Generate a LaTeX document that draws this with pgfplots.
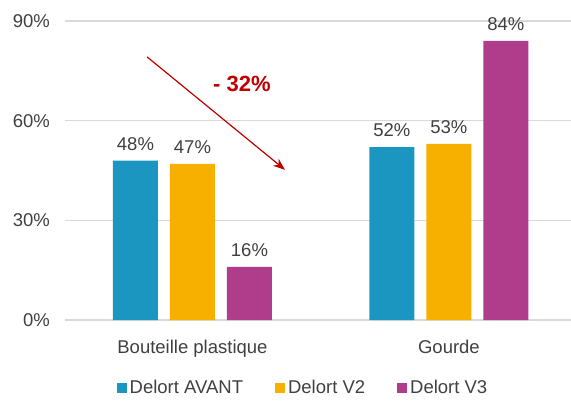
\documentclass[border=0pt]{standalone}
\usepackage{fontspec}
\setmainfont{Liberation Sans}
\usepackage{pgfplots}
\pgfplotsset{compat=1.18}
\usetikzlibrary{arrows.meta}
\definecolor{cBlue}{RGB}{26,150,193}
\definecolor{cOrange}{RGB}{248,176,0}
\definecolor{cMagenta}{RGB}{176,60,140}
\definecolor{cRed}{RGB}{192,0,0}
\definecolor{txtgray}{RGB}{64,64,64}
\definecolor{gridgray}{RGB}{217,217,217}
\newcommand\lblfont{\fontsize{18.5bp}{22bp}\selectfont}

\begin{document}
\begin{tikzpicture}
\begin{axis}[
  scale only axis,
  width=506bp, height=299bp,
  xmin=-0.497, xmax=1.476,
  ymin=0, ymax=90,
  ybar=12bp, bar width=45bp,
  clip=false,
  axis line style={draw=none},
  major tick length=0pt,
  ymajorgrids,
  grid style={draw=gridgray, line width=1.3bp},
  ytick={0,30,60,90},
  yticklabel={\pgfmathprintnumber{\tick}\%},
  xtick={0,1},
  xticklabels={Bouteille plastique, Gourde},
  /pgf/number format/assume math mode=true,
  tick label style={font=\lblfont, text=txtgray, inner sep=0pt},
  yticklabel style={anchor=east, xshift=-15bp},
  xticklabel style={anchor=north, yshift=-20bp},
  nodes near coords={\pgfmathprintnumber{\pgfplotspointmeta}\%},
  nodes near coords style={font=\lblfont, text=txtgray, inner sep=0pt, anchor=south, yshift=10bp},
  legend columns=-1,
  legend style={at={(axis cs:0.431,0)}, anchor=center, yshift=-68bp,
    draw=none, fill=none, font=\lblfont, text=txtgray,
    /tikz/every odd column/.append style={column sep=1bp},
    /tikz/every even column/.append style={column sep=30bp}},
  legend image code/.code={\fill[#1] (0bp,-5bp) rectangle (10bp,5bp);},
]
  \addplot[fill=cBlue, draw=none] coordinates {(0,48) (1,52)};
  \addplot[fill=cOrange, draw=none] coordinates {(0,47) (1,53)};
  \addplot[fill=cMagenta, draw=none] coordinates {(0,16) (1,84)};
  \legend{Delort AVANT, Delort V2, Delort V3}
  \coordinate (o) at (rel axis cs:0,0);
  \draw[-{Stealth[length=12bp,width=9bp]}, cRed, line width=1.2bp]
    (axis cs:-0.177,79.2) -- (axis cs:0.361,45.2);
  \node[text=cRed, font=\bfseries\fontsize{22bp}{25bp}\selectfont]
    at (axis cs:0.193,71) {- 32\%};
\end{axis}
\pgfresetboundingbox
\path (o) ++(-65bp,-84bp) rectangle ++(571bp,404bp);
\end{tikzpicture}
\end{document}
